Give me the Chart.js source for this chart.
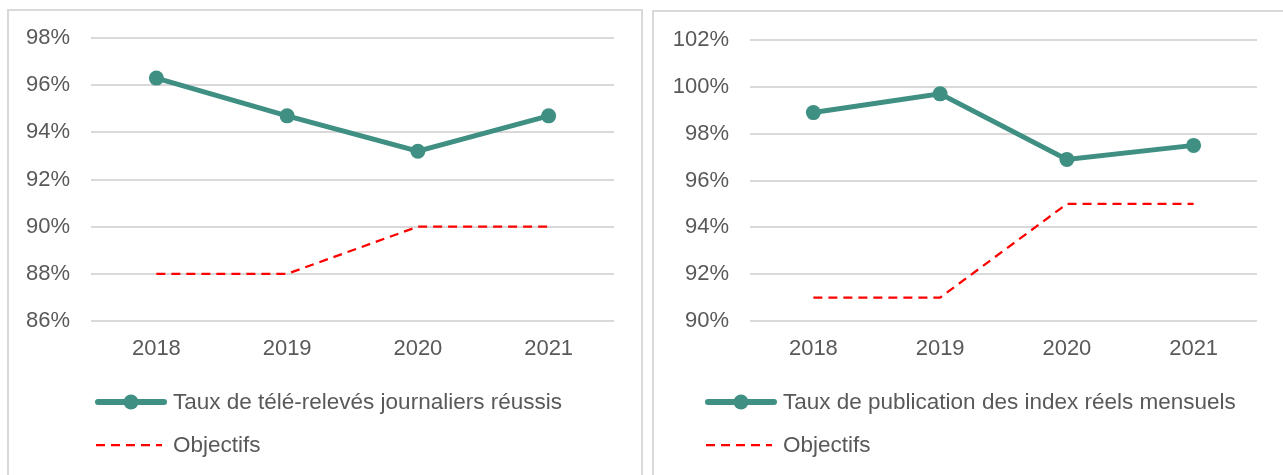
<!DOCTYPE html>
<html>
<head>
<meta charset="utf-8">
<script src="https://cdn.jsdelivr.net/npm/chart.js@4.4.1/dist/chart.umd.min.js"></script>
<style>
  html, body { margin: 0; padding: 0; background: #fff; width: 1283px; height: 475px; overflow: hidden; position: relative; }
  .box { position: absolute; border: 2px solid #d9d9d9; box-sizing: border-box; }
  .cv { position: absolute; top: 0; }
  .legend { position: absolute; font-family: "Liberation Sans", Arial, sans-serif; font-size: 22.5px; color: #595959; }
  .item { position: absolute; white-space: nowrap; display: flex; align-items: center; height: 24px; }
  .item svg { margin-right: 6px; }
</style>
</head>
<body>
<div class="box" style="left:7px; top:9px; width:636px; height:480px;"></div>
<div class="box" style="left:652px; top:10px; width:640px; height:480px;"></div>
<canvas id="c1" class="cv" style="left:0px;" width="645" height="475"></canvas>
<canvas id="c2" class="cv" style="left:645px;" width="638" height="475"></canvas>
<div id="lg1" class="legend"></div>
<div id="lg2" class="legend"></div>
<script>
const categories = ["2018", "2019", "2020", "2021"];
const teleReleves = [96.3, 94.7, 93.2, 94.7];
const objectifs1 = [88, 88, 90, 90];
const publication = [98.9, 99.7, 96.9, 97.5];
const objectifs2 = [91, 91, 95, 95];
const label1 = "Taux de télé-relevés journaliers réussis";
const label2 = "Taux de publication des index réels mensuels";
const labelObj = "Objectifs";
const yRange1 = [86, 98];
const yRange2 = [90, 102];

const TEAL = "#3f8f83";
const RED = "#ff0000";
const TXT = "#595959";
const FONT = "'Liberation Sans', Arial, sans-serif";

function makeChart(id, mainLabel, mainData, objData, yr, geo) {
  return new Chart(document.getElementById(id), {
    type: "line",
    data: {
      labels: categories,
      datasets: [
        { label: mainLabel, data: mainData, borderColor: TEAL, backgroundColor: TEAL,
          borderWidth: 5, pointRadius: 7.5, pointHoverRadius: 7.5, pointBackgroundColor: TEAL,
          pointBorderWidth: 0, tension: 0 },
        { label: labelObj, data: objData, borderColor: RED, backgroundColor: RED,
          borderWidth: 2.25, borderDash: [9, 6], pointRadius: 0, tension: 0 }
      ]
    },
    options: {
      responsive: false,
      animation: false,
      plugins: { legend: { display: false }, tooltip: { enabled: false } },
      layout: { padding: { left: 0, right: geo.right, top: geo.top, bottom: geo.bottom } },
      scales: {
        x: {
          offset: true,
          grid: { display: false, drawTicks: false },
          border: { display: false },
          ticks: { color: TXT, font: { family: FONT, size: 22 }, padding: 15 },
          afterFit: s => { s.height = 40; }
        },
        y: {
          min: yr[0], max: yr[1],
          grid: { color: "#d9d9d9", lineWidth: 2, drawTicks: false },
          border: { display: false },
          ticks: { stepSize: 2, color: TXT, font: { family: FONT, size: 22 }, padding: 21,
                   callback: v => v + "%" },
          afterFit: s => { s.width = geo.left; }
        }
      }
    }
  });
}

// chart areas: c1 left 91..614, top 38..321 ; c2 (canvas at 645) left 105..612, top 40..321
const ch1 = makeChart("c1", label1, teleReleves, objectifs1, yRange1, { left: 91, right: 645 - 614, top: 38, bottom: 475 - 321 - 40 });
const ch2 = makeChart("c2", label2, publication, objectifs2, yRange2, { left: 105, right: 638 - 612, top: 40, bottom: 475 - 321 - 40 });

function buildLegend(el, chart, x) {
  chart.data.datasets.forEach((ds, i) => {
    const it = document.createElement("div");
    it.className = "item";
    it.style.left = x + "px";
    it.style.top = (i === 0 ? 390 : 433) + "px";
    const ns = "http://www.w3.org/2000/svg";
    const svg = document.createElementNS(ns, "svg");
    svg.setAttribute("width", "72"); svg.setAttribute("height", "20");
    const ln = document.createElementNS(ns, "line");
    ln.setAttribute("x1", i === 0 ? "3" : "1"); ln.setAttribute("x2", i === 0 ? "69" : "67");
    ln.setAttribute("y1", "10"); ln.setAttribute("y2", "10");
    ln.setAttribute("stroke", ds.borderColor);
    ln.setAttribute("stroke-width", ds.borderWidth + (i === 0 ? 1 : 0));
    if (i === 0) ln.setAttribute("stroke-linecap", "round");
    if (ds.borderDash) ln.setAttribute("stroke-dasharray", ds.borderDash.join(" "));
    svg.appendChild(ln);
    if (i === 0) {
      const c = document.createElementNS(ns, "circle");
      c.setAttribute("cx", "36"); c.setAttribute("cy", "10"); c.setAttribute("r", "7.5");
      c.setAttribute("fill", ds.borderColor);
      svg.appendChild(c);
    }
    it.appendChild(svg);
    const sp = document.createElement("span");
    sp.textContent = ds.label;
    it.appendChild(sp);
    el.appendChild(it);
  });
}
buildLegend(document.getElementById("lg1"), ch1, 95);
buildLegend(document.getElementById("lg2"), ch2, 705);
</script>
</body>
</html>
